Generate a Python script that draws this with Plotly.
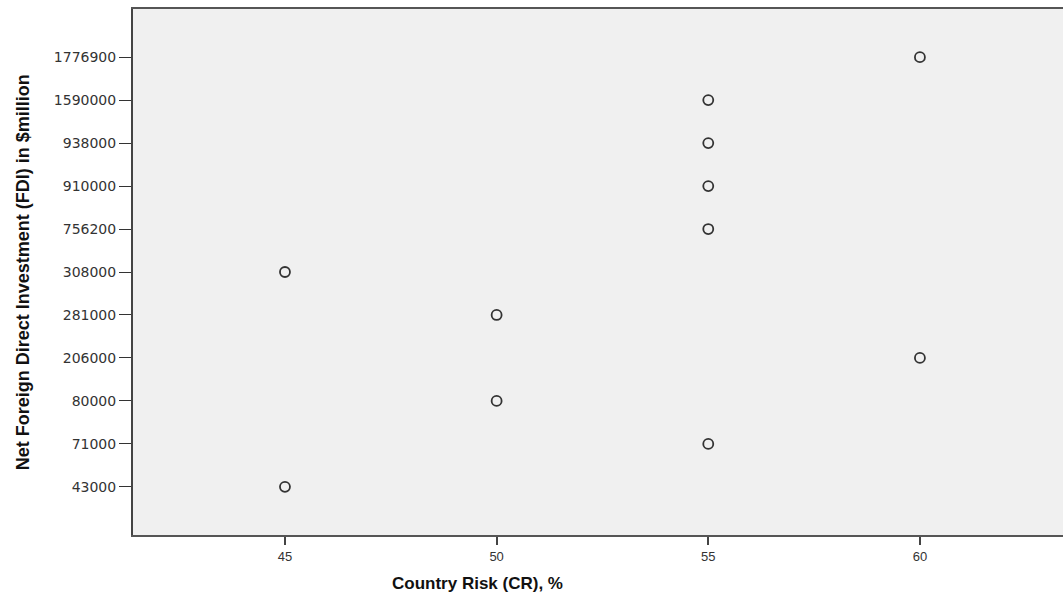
import plotly.graph_objects as go

# Country risk (%) and net FDI ($ million) per observation
country_risk = [45, 45, 50, 50, 55, 55, 55, 55, 55, 60, 60]
net_fdi = [308000, 43000, 281000, 80000, 1590000, 938000, 910000, 756200, 71000, 1776900, 206000]

# FDI values are laid out as ordered categories, lowest at the bottom
fdi_levels = [43000, 71000, 80000, 206000, 281000, 308000, 756200, 910000, 938000, 1590000, 1776900]
fdi_labels = [str(v) for v in fdi_levels]

x_ticks = [45, 50, 55, 60]

fig = go.Figure()
fig.add_trace(go.Scatter(
    x=country_risk,
    y=[str(v) for v in net_fdi],
    mode="markers",
    marker=dict(symbol="circle-open", size=10, color="#333333", line=dict(width=1.8, color="#333333")),
    showlegend=False,
))

fig.update_layout(
    width=1063, height=594,
    margin=dict(l=133, r=0, t=9, b=59),
    paper_bgcolor="white",
    plot_bgcolor="#f0f0f0",
    font=dict(family="Liberation Sans, Arial, sans-serif", size=12, color="#333333"),
    xaxis=dict(
        range=[41.41, 63.38],
        tickvals=x_ticks,
        ticktext=[str(v) for v in x_ticks],
        ticks="outside", ticklen=8, tickwidth=2, tickcolor="#444444",
        showgrid=False, zeroline=False,
        showline=True, linecolor="#555555", linewidth=2, mirror=True,
        tickfont=dict(size=13, color="#333333"),
    ),
    yaxis=dict(
        type="category",
        categoryorder="array", categoryarray=fdi_labels,
        range=[-1.12, 11.12],
        ticks="outside", ticklen=12, tickwidth=1.2, tickcolor="#333333",
        showgrid=False, zeroline=False,
        showline=True, linecolor="#444444", linewidth=2,
        tickfont=dict(family="DejaVu Sans, sans-serif", size=14, color="#333333"),
    ),
    annotations=[
        dict(
            text="<b>Country Risk (CR), %</b>",
            xref="paper", yref="paper", x=0.37, y=-0.092,
            xanchor="center", yanchor="middle", showarrow=False,
            font=dict(size=17, color="#111111", family="Liberation Sans, Arial, sans-serif"),
        ),
        dict(
            text="<b>Net Foreign Direct Investment (FDI) in $million</b>",
            xref="paper", yref="paper", x=-0.118, y=0.5,
            xanchor="center", yanchor="middle", showarrow=False, textangle=-90,
            font=dict(size=18, color="#111111", family="Liberation Sans, Arial, sans-serif"),
        ),
    ],
)

fig.write_html("out.html")
